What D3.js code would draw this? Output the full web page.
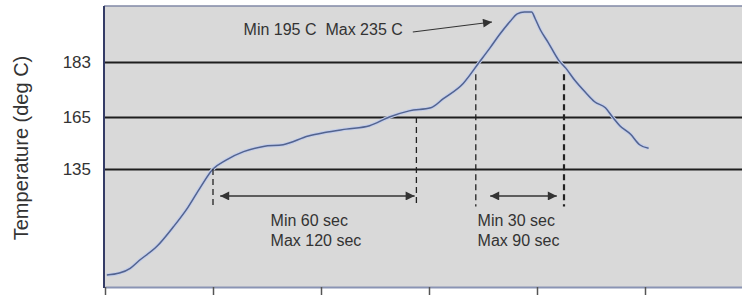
<!DOCTYPE html>
<html>
<head>
<meta charset="utf-8">
<script src="https://cdn.jsdelivr.net/npm/d3@7"></script>
<style>
  body { margin: 0; background: #fff; }
  svg { display: block; font-family: Arial, "Liberation Sans", sans-serif; }
</style>
</head>
<body>
<div id="chart"></div>
<script>
// reflow profile: time (sec) vs temperature (deg C)
const times = [1, 8, 14, 19, 29, 38, 46, 53, 60, 67, 77, 88, 99, 113, 122, 134, 147, 158, 169, 181, 188, 199, 208,
  214, 219, 225, 229, 233, 237, 239, 242, 246, 252, 256, 261, 267, 272, 278, 282, 286, 292, 297, 302];
const temps = [25, 27, 32, 40, 55, 75, 95, 116, 135, 140, 145, 148, 149, 154, 156, 158, 160, 165, 167, 168, 171, 176, 183,
  198, 211, 225, 233, 235, 235, 228, 216, 204, 185, 181, 177, 173, 170, 168, 165, 160, 155, 149, 147];

const limitTemps = [135, 165, 183];
const timeTicks = [0, 60, 120, 180, 240, 300];

// annotation windows (sec) and labels
const soakWindow = [60, 173];
const reflowWindow = [206, 255];
const peakLabel = 'Min 195 C  Max 235 C';
const soakLabel = ['Min 60 sec', 'Max 120 sec'];
const reflowLabel = ['Min 30 sec', 'Max 90 sec'];
const yLabel = 'Temperature (deg C)';

const width = 742;
const height = 295;
const plot = { left: 104, top: 6, right: 742, bottom: 287 };

const svg = d3.select('#chart')
  .append('svg')
  .attr('width', width)
  .attr('height', height);

const x = d3.scaleLinear()
  .domain([0, 354])
  .range([105, 742.2]);

// the original is a sketch, so the temperature axis is piecewise
const y = d3.scaleLinear()
  .domain([25, 135, 165, 183, 235])
  .range([275, 169, 117, 62, 12]);

const data = times.map((t, i) => ({ t: t, v: temps[i] }));

const defs = svg.append('defs');
defs.append('marker')
  .attr('id', 'head')
  .attr('viewBox', '0 0 10 10')
  .attr('refX', 10)
  .attr('refY', 5)
  .attr('markerWidth', 11)
  .attr('markerHeight', 9)
  .attr('markerUnits', 'userSpaceOnUse')
  .attr('orient', 'auto-start-reverse')
  .append('path')
  .attr('d', 'M0,0L10,5L0,10Z')
  .attr('fill', '#333');

// plot background
svg.append('rect')
  .attr('x', plot.left)
  .attr('y', plot.top)
  .attr('width', plot.right - plot.left)
  .attr('height', plot.bottom - plot.top)
  .attr('fill', '#d9d9d9');

svg.append('line')
  .attr('x1', plot.left).attr('x2', plot.right)
  .attr('y1', plot.top).attr('y2', plot.top)
  .attr('stroke', '#8088a6')
  .attr('stroke-width', 1.5);

// limit lines + labels
const yAxis = svg.append('g')
  .attr('class', 'y axis')
  .attr('transform', `translate(${plot.left},0)`)
  .call(d3.axisLeft(y)
    .tickValues(limitTemps)
    .tickSize(-(plot.right - plot.left))
    .tickPadding(13));
yAxis.select('.domain').remove();
yAxis.selectAll('line')
  .attr('stroke', '#1e1e1e')
  .attr('stroke-width', 1.8);
yAxis.selectAll('text')
  .attr('fill', '#333')
  .style('font-size', '17px');

// x axis
const xAxis = svg.append('g')
  .attr('class', 'x axis')
  .attr('transform', `translate(0,${plot.bottom})`)
  .call(d3.axisBottom(x)
    .tickValues(timeTicks)
    .tickFormat('')
    .tickSize(8)
    .tickSizeOuter(0));
xAxis.select('.domain')
  .attr('stroke', '#8a94b4')
  .attr('stroke-width', 2);
xAxis.selectAll('.tick line')
  .attr('stroke', '#555')
  .attr('stroke-width', 1.5);

svg.append('line')
  .attr('x1', plot.left).attr('x2', plot.left)
  .attr('y1', plot.top).attr('y2', plot.bottom + 1)
  .attr('stroke', '#343c66')
  .attr('stroke-width', 2);

// profile curve
const line = d3.line()
  .x(d => x(d.t))
  .y(d => y(d.v))
  .curve(d3.curveMonotoneX);

svg.append('path')
  .datum(data)
  .attr('d', line)
  .attr('fill', 'none')
  .attr('stroke', '#c3cdea')
  .attr('stroke-width', 3.5)
  .attr('stroke-linejoin', 'round');

svg.append('path')
  .datum(data)
  .attr('d', line)
  .attr('fill', 'none')
  .attr('stroke', '#52638f')
  .attr('stroke-width', 1.5)
  .attr('stroke-linejoin', 'round');

// dashed time markers
const markers = [
  { t: soakWindow[0], top: 135, w: 1.3 },
  { t: soakWindow[1], top: 165, w: 1.3 },
  { t: reflowWindow[0], top: 179, w: 1.3 },
  { t: reflowWindow[1], top: 179, w: 2.2 }
];
svg.selectAll('line.marker')
  .data(markers)
  .enter()
  .append('line')
  .attr('class', 'marker')
  .attr('x1', d => x(d.t)).attr('x2', d => x(d.t))
  .attr('y1', d => y(d.top)).attr('y2', y(96))
  .attr('stroke', '#222')
  .attr('stroke-width', d => d.w)
  .attr('stroke-dasharray', '6,4');

// double arrows
const spans = [
  { from: 64, to: 172 },
  { from: 214, to: 251 }
];
svg.selectAll('line.span')
  .data(spans)
  .enter()
  .append('line')
  .attr('class', 'span')
  .attr('x1', d => x(d.from)).attr('x2', d => x(d.to))
  .attr('y1', y(107)).attr('y2', y(107))
  .attr('stroke', '#333')
  .attr('stroke-width', 1.5)
  .attr('marker-start', 'url(#head)')
  .attr('marker-end', 'url(#head)');

function appendLabel (lines, t) {
  const text = svg.append('text')
    .attr('x', x(t))
    .attr('y', y(76))
    .attr('fill', '#333')
    .style('font-size', '16px');
  text.selectAll('tspan')
    .data(lines)
    .enter()
    .append('tspan')
    .attr('x', x(t))
    .attr('dy', (d, i) => i === 0 ? 0 : 20)
    .text(d => d);
}
appendLabel(soakLabel, 92);
appendLabel(reflowLabel, 207);

// peak annotation
svg.append('text')
  .attr('x', x(77))
  .attr('y', 35)
  .attr('fill', '#333')
  .style('font-size', '16px')
  .style('white-space', 'pre')
  .text(peakLabel);

svg.append('line')
  .attr('x1', x(171)).attr('y1', 32)
  .attr('x2', x(215)).attr('y2', 22)
  .attr('stroke', '#333')
  .attr('stroke-width', 1.2)
  .attr('marker-end', 'url(#head)');

svg.append('text')
  .attr('text-anchor', 'middle')
  .attr('transform', 'translate(28,148) rotate(-90)')
  .attr('fill', '#333')
  .style('font-size', '20px')
  .text(yLabel);
</script>
</body>
</html>
